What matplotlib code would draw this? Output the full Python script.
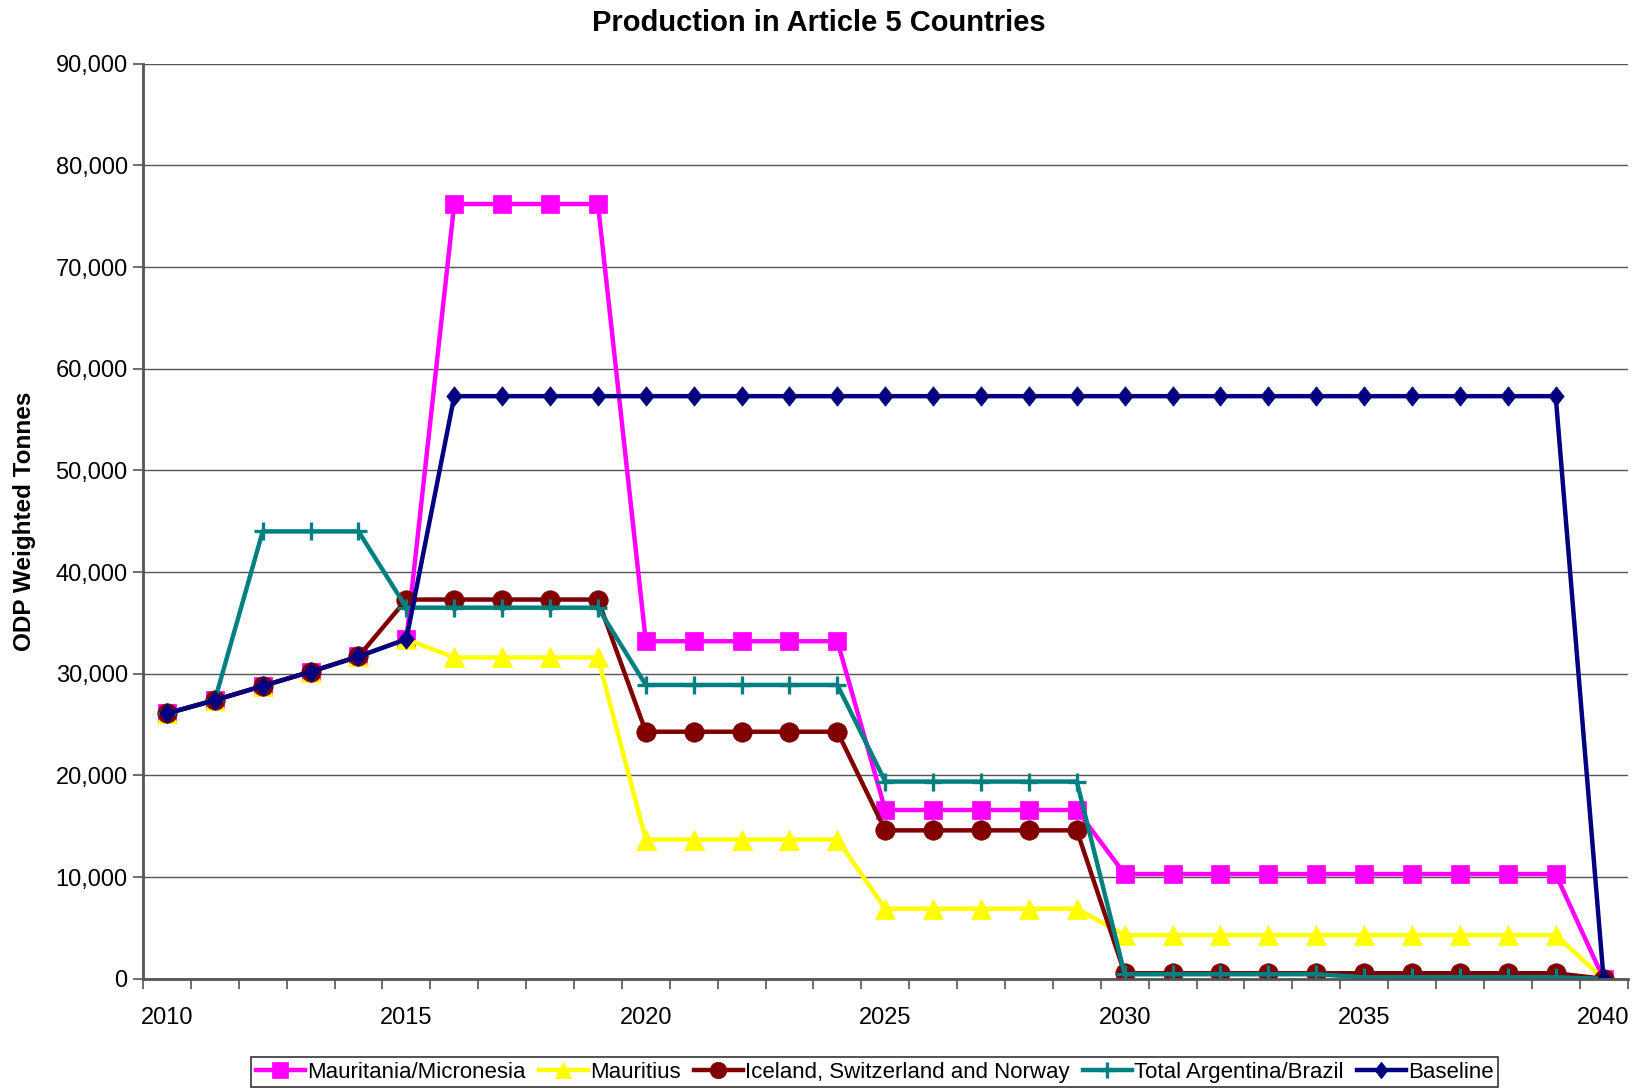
import matplotlib
matplotlib.use("Agg")
import matplotlib.pyplot as plt
import matplotlib.ticker as mticker

plt.rcParams['font.family'] = ['Liberation Sans', 'DejaVu Sans']

years = list(range(2010, 2041))

mauritania_micronesia = [26100, 27400, 28800, 30200, 31700, 33400,
                         76200, 76200, 76200, 76200,
                         33200, 33200, 33200, 33200, 33200,
                         16600, 16600, 16600, 16600, 16600,
                         10300, 10300, 10300, 10300, 10300,
                         10300, 10300, 10300, 10300, 10300,
                         0]
mauritius = [26100, 27400, 28800, 30200, 31700, 33400,
             31600, 31600, 31600, 31600,
             13700, 13700, 13700, 13700, 13700,
             6900, 6900, 6900, 6900, 6900,
             4300, 4300, 4300, 4300, 4300,
             4300, 4300, 4300, 4300, 4300,
             0]
iceland_swiss_norway = [26100, 27400, 28800, 30200, 31700,
                        37300, 37300, 37300, 37300, 37300,
                        24300, 24300, 24300, 24300, 24300,
                        14600, 14600, 14600, 14600, 14600,
                        550, 550, 550, 550, 550,
                        550, 550, 550, 550, 550,
                        0]
argentina_brazil = [26100, 27400, 44000, 44000, 44000,
                    36500, 36500, 36500, 36500, 36500,
                    28900, 28900, 28900, 28900, 28900,
                    19400, 19400, 19400, 19400, 19400,
                    450, 450, 450, 450, 450,
                    150, 150, 150, 150, 150,
                    0]
baseline = [26100, 27400, 28800, 30200, 31700, 33400,
            57300, 57300, 57300, 57300, 57300, 57300, 57300, 57300,
            57300, 57300, 57300, 57300, 57300, 57300, 57300, 57300,
            57300, 57300, 57300, 57300, 57300, 57300, 57300, 57300,
            0]

# a diamond a little taller than it is wide
tall_diamond = [(0, 1), (0.79, 0), (0, -1), (-0.79, 0), (0, 1)]

series = [
    ("Mauritania/Micronesia", mauritania_micronesia, "#FF00FF", "s", 13.5),
    ("Mauritius", mauritius, "#FFFF00", "^", 14),
    ("Iceland, Switzerland and Norway", iceland_swiss_norway, "#800000", "o", 14),
    ("Total Argentina/Brazil", argentina_brazil, "#008080", "+", 13),
    ("Baseline", baseline, "#000080", tall_diamond, 14),
]

fig = plt.figure(figsize=(16.38, 10.9), dpi=100)
ax = fig.add_axes([0.0873, 0.102, 0.9063, 0.8396])

x = list(range(len(years)))
for name, vals, col, mk, ms in series:
    ax.plot(x, vals, color=col, lw=3.2, marker=mk, ms=ms, mfc=col, mec=col,
            mew=2.4 if mk == "+" else 0.5, label=name)

ax.set_xlim(-0.5, len(years) - 0.5)
ax.set_ylim(0, 90000)

# year labels every five categories, tick marks between categories
ax.set_xticks(x[::5])
ax.set_xticklabels([str(y) for y in years[::5]])
ax.set_xticks([i - 0.5 for i in range(len(years) + 1)], minor=True)
ax.tick_params(axis='x', which='major', length=0, pad=20, labelsize=17)
ax.tick_params(axis='x', which='minor', length=7, width=1.2, color='#555555')

ax.set_yticks(range(0, 90001, 10000))
ax.yaxis.set_major_formatter(mticker.FuncFormatter(lambda v, p: f"{int(v):,}"))
ax.tick_params(axis='y', length=7, width=1.2, color='#555555', pad=4, labelsize=17)
ax.grid(axis='y', color='#555555', lw=1)
ax.set_axisbelow(True)

for s in ['top', 'right']:
    ax.spines[s].set_visible(False)
for s in ['left', 'bottom']:
    ax.spines[s].set_color('#555555')
    ax.spines[s].set_linewidth(2)

ax.set_ylabel("ODP Weighted Tonnes", fontsize=17.5, fontweight='bold', labelpad=14)
fig.text(0.5, 0.979, "Production in Article 5 Countries", ha='center', va='center',
         fontsize=21, fontweight='bold')

leg = fig.legend(loc='center', bbox_to_anchor=(0.534, 0.0165), ncol=5, fontsize=16,
                 frameon=True, fancybox=False, edgecolor='black', handlelength=2.2,
                 handletextpad=0.1, columnspacing=0.6, borderpad=0.2, borderaxespad=0,
                 markerscale=0.85)
leg.get_frame().set_linewidth(1.2)

fig.savefig("out.png", dpi=100)
